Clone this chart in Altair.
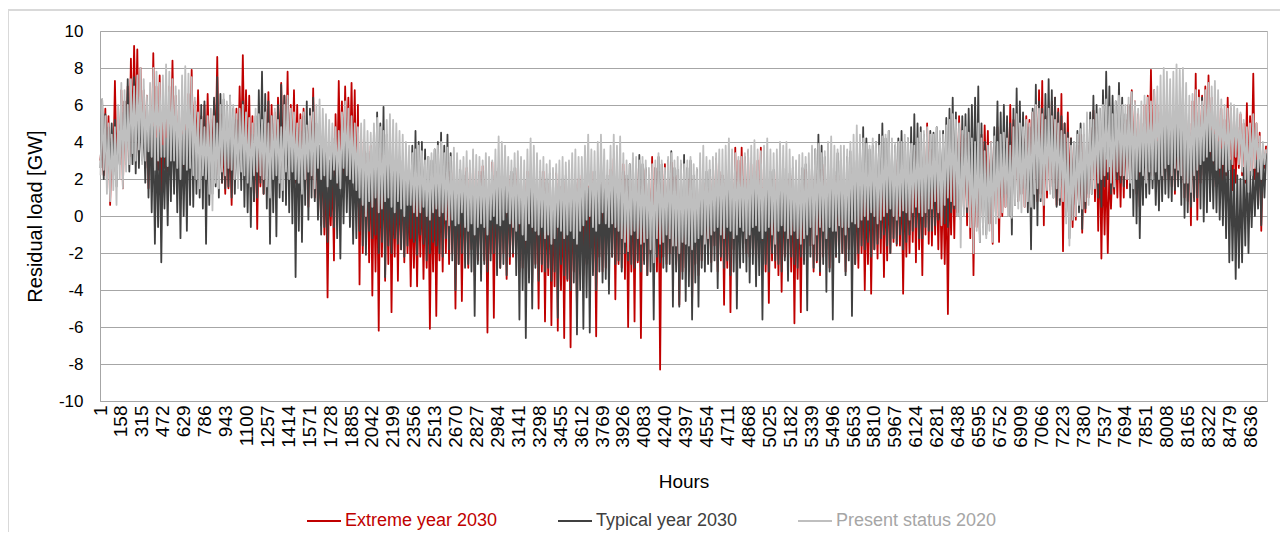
import altair as alt
import pandas as pd

FONT = "Liberation Sans, Arial, sans-serif"

series_names = ["Extreme year 2030", "Typical year 2030", "Present status 2020"]
line_colors = ["#c00000", "#404040", "#bfbfbf"]

# Daily daytime peak and night-time trough of each series, GW (365 days)
extreme_peak = [
    4.5, 5.8, 5.4, 4.2, 7.3, 5.0, 6.8, 6.2, 7.0, 8.5,
    9.2, 9.0, 8.0, 6.8, 6.5, 5.2, 8.8, 7.0, 7.6, 5.5,
    6.2, 7.0, 8.4, 6.5, 6.0, 5.0, 5.5, 6.6, 7.9, 6.2,
    6.8, 5.4, 6.0, 6.6, 5.2, 6.2, 8.6, 5.5, 4.0, 4.8,
    4.2, 5.0, 5.8, 7.0, 8.7, 6.8, 6.5, 5.4, 5.0, 4.6,
    5.0, 5.8, 6.7, 6.0, 5.6, 6.4, 7.2, 6.5, 7.8, 6.0,
    6.8, 6.0, 5.5, 5.8, 4.8, 5.5, 6.9, 4.6, 3.0, 3.4,
    3.0, 2.2, 2.5, 5.5, 7.3, 6.2, 7.0, 6.4, 7.2, 6.8,
    6.0, 4.2, 3.5, 3.0, 3.8, 2.5, 2.8, 3.4, 3.2, 2.6,
    2.9, 2.0, 2.5, 2.2, 2.2, 1.8, 1.5, 1.0, 1.2, 1.6,
    2.0, 1.4, 1.8, 1.2, 2.2, 1.6, 1.6, 2.3, 2.9, 2.4,
    2.5, 2.2, 2.0, 1.8, 2.6, 2.4, 2.9, 2.0, 2.4, 2.7,
    2.2, 1.6, 2.9, 2.4, 2.1, 1.8, 2.5, 2.2, 1.8, 2.3,
    2.6, 2.0, 2.0, 2.4, 2.3, 1.6, 1.9, 2.1, 2.4, 1.5,
    1.8, 1.2, 2.3, 1.6, 1.5, 1.9, 2.0, 1.4, 1.7, 2.0,
    2.2, 1.5, 1.6, 2.4, 2.0, 1.8, 2.6, 2.0, 1.8, 2.5,
    3.1, 2.5, 2.4, 2.8, 2.0, 1.6, 2.2, 2.6, 1.6, 1.9,
    2.5, 2.0, 3.2, 2.6, 2.4, 1.8, 2.8, 2.2, 2.9, 2.1,
    2.2, 1.6, 1.0, 2.0, 2.0, 1.2, 1.4, 2.2, 1.8, 1.4,
    1.5, 2.2, 3.1, 2.4, 2.2, 1.8, 2.5, 2.0, 3.7, 3.0,
    3.7, 3.2, 3.5, 2.8, 2.4, 3.0, 3.7, 2.5, 2.0, 1.6,
    2.0, 2.4, 1.5, 1.2, 1.8, 2.0, 2.2, 1.6, 1.4, 1.8,
    2.5, 2.0, 2.6, 2.3, 2.2, 2.5, 2.8, 2.4, 2.0, 2.2,
    2.0, 2.2, 1.8, 1.6, 2.4, 2.0, 1.6, 2.2, 2.0, 1.4,
    2.5, 1.8, 2.0, 2.4, 2.6, 2.2, 1.8, 2.6, 3.1, 2.4,
    2.4, 2.0, 2.2, 2.8, 3.5, 3.0, 2.6, 3.4, 5.0, 3.6,
    3.0, 2.6, 2.5, 2.2, 1.9, 2.4, 3.4, 4.0, 5.4, 4.4,
    4.2, 4.5, 3.6, 3.0, 4.0, 4.4, 4.9, 4.6, 4.0, 3.8,
    4.8, 4.0, 3.5, 5.0, 6.0, 5.2, 5.5, 5.0, 4.6, 5.4,
    5.2, 5.6, 6.0, 6.8, 7.3, 5.4, 5.8, 6.2, 6.4, 5.8,
    6.6, 5.0, 5.6, 4.2, 3.0, 3.8, 4.4, 4.0, 3.8, 4.8,
    5.7, 4.8, 4.2, 3.4, 3.0, 2.6, 3.0, 4.0, 4.5, 5.0,
    5.2, 6.0, 6.8, 6.2, 5.5, 5.0, 6.0, 6.5, 7.9, 6.8,
    6.0, 5.6, 5.0, 6.2, 5.5, 5.0, 4.8, 5.4, 5.8, 5.2,
    5.0, 6.2, 7.7, 6.8, 6.5, 7.0, 7.6, 6.4, 5.8, 6.0,
    5.8, 5.2, 6.4, 5.8, 5.2, 4.8, 5.5, 5.0, 6.1, 5.4,
    7.7, 5.0, 4.5, 3.6, 3.8,
]
extreme_trough = [
    3.0, 2.2, 1.8, 0.6, 2.4, 2.8, 3.5, 1.5, 2.8, 3.2,
    4.0, 4.5, 3.2, 3.4, 2.6, 1.5, 3.0, 2.8, 2.5, 1.0,
    2.6, 2.4, 3.4, 3.0, 2.8, 2.1, 2.5, 2.0, 3.2, 3.5,
    3.4, 3.0, 2.8, 2.6, 3.0, 3.1, 3.6, 2.2, 1.8, 1.2,
    1.5, 0.6, 2.0, 2.5, 3.4, 3.2, 2.6, 1.8, 0.8, -0.7,
    1.6, 1.2, 2.2, 1.7, 2.0, 2.4, 3.0, 2.6, 2.8, 2.0,
    2.4, 1.8, 2.0, 2.2, 1.4, 0.5, 2.0, 1.0, 0.5, -0.5,
    -1.0, -4.4, -0.5, -2.4, 1.5, 2.5, 2.2, 2.8, 2.6, 2.2,
    0.5, -3.7, -2.0, -1.5, -2.5, -4.3, -3.0, -6.2, -2.2, -3.5,
    -2.6, -5.2, -2.2, -3.5, -1.8, -2.5, -2.0, -3.8, -2.8, -3.8,
    -2.2, -3.4, -2.8, -6.1, -3.0, -5.4, -2.4, -3.0, -2.0, -2.6,
    -2.0, -5.0, -2.6, -4.6, -2.2, -2.8, -1.8, -3.2, -2.4, -2.5,
    -2.4, -6.3, -2.0, -5.5, -2.6, -2.8, -2.0, -3.4, -2.6, -2.2,
    -1.8, -3.0, -2.8, -2.4, -2.0, -3.6, -2.6, -5.0, -3.0, -5.7,
    -3.2, -5.9, -3.8, -6.2, -4.0, -6.6, -3.5, -7.1, -3.0, -5.1,
    -2.0, -3.2, -2.6, -2.6, -3.0, -6.5, -2.2, -3.0, -2.8, -2.4,
    -2.2, -4.5, -2.6, -2.8, -3.4, -6.0, -3.0, -5.7, -2.5, -6.6,
    -2.4, -3.2, -2.0, -2.5, -3.0, -8.3, -2.2, -2.6, -2.0, -3.0,
    -2.6, -4.8, -3.0, -2.8, -2.2, -4.7, -2.6, -3.2, -2.4, -2.0,
    -2.0, -2.5, -1.6, -3.0, -2.4, -4.8, -2.8, -5.2, -1.8, -2.6,
    -1.2, -1.5, -2.0, -2.2, -1.8, -2.8, -2.0, -2.5, -3.0, -4.7,
    -2.4, -2.8, -3.2, -4.1, -2.2, -2.6, -3.0, -5.8, -3.4, -5.2,
    -2.4, -2.0, -1.6, -3.0, -2.5, -3.2, -2.2, -1.8, -2.8, -2.5,
    -2.2, -1.5, -2.0, -3.0, -1.8, -2.2, -2.6, -2.8, -2.0, -4.0,
    -2.6, -4.2, -1.8, -2.3, -2.0, -3.3, -2.4, -2.0, -1.4, -1.6,
    -1.6, -4.2, -2.2, -2.0, -1.4, -2.5, -1.8, -3.2, -1.0, -1.5,
    -1.6, -1.0, -1.8, -2.3, -2.6, -5.3, -1.0, -1.2, 0.2, 0.8,
    0.4, -0.5, -1.2, -3.2, -0.6, -1.0, 0.6, 1.2, -0.4, -1.5,
    0.2, -1.4, 0.0, 0.5, 1.0, 1.2, 1.4, 0.8, 1.2, 0.5,
    1.4, 1.0, 1.8, 0.8, 1.2, -0.5, 1.0, 1.4, 1.8, 0.6,
    0.8, -1.9, 0.2, 0.4, -0.6, -0.2, 0.6, -0.9, 0.2, 1.0,
    1.4, 0.8, -0.8, -2.3, -1.0, -2.0, 0.4, 1.2, 1.0, 0.5,
    1.0, 1.5, 2.4, 2.0, 1.2, 0.5, 1.4, 1.8, 2.6, 2.2,
    2.2, 1.5, 1.8, 2.4, 2.0, 1.6, 1.2, 2.0, 1.8, 1.0,
    0.8, -0.5, 1.0, -0.2, 1.8, 2.2, 2.6, 2.0, 1.6, 2.6,
    2.0, 1.5, 2.2, 2.5, 1.4, 1.8, 2.6, 2.2, 1.8, 1.4,
    2.4, 2.0, 1.2, -0.8, 2.6,
]

typical_peak = [
    6.3, 5.5, 4.8, 5.0, 5.2, 4.6, 5.6, 6.2, 7.4, 6.8,
    7.5, 6.4, 5.8, 5.2, 6.0, 5.4, 4.8, 4.2, 4.5, 3.8,
    4.2, 4.8, 5.5, 5.2, 5.0, 4.4, 4.6, 5.6, 6.5, 5.8,
    5.5, 6.0, 6.2, 5.0, 5.0, 6.4, 7.5, 6.6, 6.3, 6.0,
    6.5, 5.8, 5.2, 5.6, 6.2, 5.0, 4.8, 4.4, 5.4, 6.8,
    7.8, 6.6, 6.2, 5.4, 5.0, 6.0, 7.1, 6.5, 6.3, 5.6,
    5.5, 4.8, 4.6, 5.4, 6.2, 5.8, 6.4, 5.0, 3.8, 4.2,
    3.6, 3.0, 4.2, 3.8, 3.5, 4.0, 4.5, 4.2, 3.8, 3.4,
    3.2, 3.6, 4.0, 3.4, 3.5, 4.6, 5.6, 5.0, 5.9, 4.4,
    3.3, 2.6, 2.8, 3.2, 3.0, 2.4, 2.6, 3.8, 4.6, 4.0,
    4.0, 3.6, 3.2, 3.0, 3.6, 4.0, 4.5, 3.8, 4.4, 3.4,
    3.0, 2.8, 2.5, 2.2, 2.4, 2.0, 2.0, 1.8, 2.2, 2.4,
    2.5, 2.0, 2.2, 2.4, 2.6, 1.8, 2.0, 2.2, 2.4, 2.6,
    2.6, 2.2, 2.0, 1.6, 2.2, 2.0, 2.5, 2.4, 1.8, 2.0,
    2.3, 2.0, 1.8, 1.6, 2.0, 2.2, 2.5, 2.0, 1.8, 1.5,
    2.0, 1.6, 1.5, 1.8, 2.4, 2.0, 1.8, 2.2, 2.2, 2.0,
    2.4, 2.6, 2.8, 2.4, 2.2, 2.8, 3.1, 2.6, 3.3, 2.8,
    2.6, 2.2, 2.0, 2.6, 3.2, 2.8, 2.4, 3.0, 3.5, 2.6,
    2.5, 2.8, 3.3, 2.6, 3.0, 2.2, 2.5, 2.0, 2.0, 2.4,
    2.5, 2.2, 2.8, 2.4, 2.2, 2.0, 1.8, 2.2, 2.4, 1.6,
    1.5, 2.0, 2.5, 2.2, 1.8, 1.6, 2.2, 1.8, 2.0, 2.4,
    2.5, 2.0, 2.2, 2.6, 2.0, 2.3, 2.6, 2.4, 2.2, 2.6,
    2.8, 2.4, 3.0, 3.6, 4.4, 3.8, 3.2, 2.8, 2.6, 2.4,
    3.4, 3.0, 3.0, 3.2, 3.5, 2.6, 3.0, 3.8, 4.8, 4.2,
    3.6, 3.8, 4.0, 4.4, 5.0, 4.2, 4.6, 3.6, 3.8, 4.2,
    4.6, 4.0, 4.2, 4.8, 5.5, 5.0, 4.8, 4.4, 4.0, 4.6,
    4.5, 4.8, 4.2, 4.6, 5.3, 5.8, 6.4, 5.6, 5.0, 5.4,
    5.5, 5.8, 6.0, 6.4, 7.0, 5.0, 4.0, 3.8, 3.5, 4.8,
    6.2, 5.6, 6.0, 5.4, 5.0, 5.8, 6.9, 6.2, 5.6, 5.0,
    4.8, 5.8, 7.1, 6.2, 5.8, 6.6, 7.4, 6.8, 6.4, 5.6,
    5.4, 5.0, 4.5, 4.2, 4.0, 4.6, 5.0, 4.4, 4.2, 5.6,
    6.5, 6.0, 5.8, 6.8, 7.8, 7.0, 6.5, 6.2, 7.2, 6.4,
    5.5, 6.0, 6.7, 5.4, 4.5, 4.0, 5.0, 4.8, 4.5, 4.2,
    4.0, 4.6, 5.0, 5.2, 4.6, 5.0, 5.5, 6.0, 7.2, 5.6,
    4.5, 4.8, 5.2, 5.8, 6.4, 5.4, 5.0, 4.6, 4.4, 4.0,
    3.6, 3.8, 4.2, 3.0, 2.5, 2.2, 2.0, 2.6, 3.0, 2.4,
    2.5, 3.0, 3.7, 3.2, 3.4,
]
typical_trough = [
    2.6, 2.0, 2.4, 2.5, 2.2, 1.6, 2.8, 3.0, 3.4, 2.4,
    2.8, 2.3, 2.6, 3.0, 1.8, 1.0, 0.2, -1.5, -0.6, -2.5,
    0.4, -0.5, 0.8, 1.2, 0.2, -1.2, 0.0, -0.8, 0.6, 0.5,
    1.2, 1.0, 0.4, -1.5, 0.6, 1.2, 1.6, 1.0, 1.8, 1.5,
    1.6, 1.0, 1.2, 1.8, 1.4, 0.5, 0.2, -0.6, 0.8, 1.0,
    1.8, 1.2, 0.4, -1.5, 0.2, -1.1, 1.0, 0.8, 0.6, 0.2,
    -0.4, -3.3, -0.8, -1.4, 0.6, -0.2, 1.0, 0.8, -0.2, -1.0,
    -0.6, -1.4, 0.0, -0.6, -1.2, -2.3, -0.4, 0.2, -0.6, -1.5,
    -1.2, -0.8, -1.6, -2.1, -0.8, -1.2, -1.0, -2.0, -1.4, -3.3,
    -1.6, -2.0, -1.2, -1.5, -1.8, -2.2, -1.6, -1.2, -1.4, -2.1,
    -1.0, -1.5, -2.4, -2.0, -1.4, -1.6, -2.0, -2.2, -1.2, -1.8,
    -2.4, -4.0, -2.6, -2.0, -2.8, -2.6, -3.0, -5.4, -2.6, -3.5,
    -2.6, -3.0, -2.4, -2.0, -3.2, -2.8, -2.6, -3.2, -2.2, -2.0,
    -3.2, -5.6, -4.0, -6.6, -3.6, -5.0, -2.8, -3.5, -2.6, -3.0,
    -2.8, -3.5, -3.0, -5.5, -2.6, -3.2, -3.4, -4.0, -3.6, -6.4,
    -4.0, -6.1, -4.4, -6.3, -3.2, -4.0, -3.0, -3.6, -3.4, -4.2,
    -2.2, -2.6, -2.4, -3.0, -2.0, -2.4, -2.6, -2.8, -2.4, -3.0,
    -2.6, -3.2, -3.0, -5.6, -2.2, -2.5, -2.8, -3.0, -2.6, -4.9,
    -3.0, -4.9, -3.4, -4.6, -3.8, -5.6, -3.6, -4.9, -2.8, -3.0,
    -2.6, -3.0, -2.4, -3.9, -2.2, -2.8, -2.4, -3.2, -3.0, -5.0,
    -2.8, -2.5, -3.0, -3.6, -2.6, -3.8, -3.2, -5.6, -2.6, -3.0,
    -2.0, -2.4, -2.6, -3.0, -2.4, -3.5, -2.2, -2.6, -2.8, -2.2,
    -2.6, -5.1, -2.2, -2.8, -2.4, -3.0, -2.6, -4.1, -3.0, -5.6,
    -2.2, -2.5, -2.0, -3.2, -2.4, -5.4, -2.6, -2.0, -1.6, -1.8,
    -1.4, -2.2, -1.8, -1.5, -1.2, -1.0, -1.6, -2.0, -1.2, -1.5,
    -1.0, -1.8, -1.4, -1.0, -0.8, -0.6, -1.2, -1.2, -0.6, -0.8,
    -0.8, -0.5, -0.2, 0.0, -0.4, -0.6, 0.2, 0.4, 0.0, -0.2,
    0.4, 0.2, 0.6, 0.8, 0.2, -1.4, -0.6, -1.0, -0.4, 0.5,
    0.8, 0.5, 1.0, 1.2, 0.0, -1.0, 0.6, 0.8, 1.2, 1.5,
    0.2, -1.8, 0.4, -0.5, 0.8, 1.0, 1.4, 1.6, 1.0, 0.5,
    0.6, 1.0, 0.0, -1.2, -0.2, 0.6, 0.2, -0.7, 0.4, 1.2,
    1.2, 1.5, 1.0, 0.5, 1.6, 2.0, 1.2, 1.5, 2.0, 1.8,
    1.6, 2.2, 1.0, 0.0, -0.4, -1.2, 0.6, 1.0, 1.2, 1.5,
    0.6, 0.3, 0.8, 1.2, 1.0, 0.8, 1.4, 1.6, 0.6, -0.1,
    0.2, 0.5, 0.8, 1.0, 0.4, -0.3, 0.2, 0.8, 0.4, 0.2,
    -0.2, -0.5, -1.2, -2.5, -2.4, -3.4, -2.8, -2.5, -1.6, -2.0,
    -0.6, 0.0, 0.4, -0.5, 1.0,
]

present_peak = [
    6.3, 5.4, 5.0, 4.4, 4.8, 6.0, 7.2, 6.8, 6.0, 7.4,
    7.0, 7.6, 8.0, 7.4, 6.5, 7.2, 8.0, 7.8, 7.2, 7.6,
    8.2, 7.8, 7.4, 7.0, 6.8, 7.6, 8.1, 7.7, 7.5, 6.4,
    5.6, 5.2, 4.8, 5.4, 5.8, 5.4, 5.0, 6.0, 6.6, 6.2,
    6.5, 6.0, 5.5, 5.8, 6.0, 5.6, 5.3, 5.0, 5.8, 5.5,
    5.2, 5.6, 5.0, 5.4, 5.8, 5.2, 4.8, 6.0, 6.5, 5.8,
    5.6, 5.0, 5.2, 5.6, 4.9, 5.4, 5.6, 6.0, 6.3, 5.8,
    5.5, 5.2, 5.0, 4.8, 4.6, 5.6, 6.2, 5.8, 5.4, 5.0,
    4.8, 5.0, 5.2, 4.6, 4.5, 5.0, 5.3, 4.8, 4.6, 5.2,
    5.5, 5.2, 5.0, 4.6, 4.4, 4.0, 3.8, 3.4, 3.6, 3.8,
    3.5, 3.0, 3.2, 3.4, 3.6, 3.8, 4.0, 3.4, 3.7, 3.2,
    3.7, 3.4, 3.0, 3.2, 3.5, 3.0, 3.6, 3.3, 3.2, 3.0,
    3.4, 3.2, 3.0, 3.6, 4.3, 4.0, 3.8, 3.2, 3.0, 3.4,
    3.5, 3.2, 3.0, 3.6, 4.2, 3.8, 3.4, 3.0, 3.2, 2.8,
    3.0, 2.6, 2.8, 3.0, 3.2, 2.9, 3.0, 3.4, 3.6, 3.2,
    3.2, 3.8, 4.4, 3.6, 3.5, 4.0, 4.4, 3.6, 3.0, 3.8,
    4.4, 3.8, 4.3, 3.4, 3.0, 2.8, 3.4, 3.2, 3.0, 3.2,
    3.0, 2.6, 2.8, 3.0, 3.4, 3.0, 2.6, 3.2, 3.4, 3.0,
    3.2, 3.0, 2.8, 3.0, 3.2, 2.8, 2.6, 3.4, 3.8, 3.2,
    3.0, 3.2, 3.4, 3.6, 3.6, 3.8, 4.2, 3.6, 3.4, 3.2,
    3.2, 3.4, 3.6, 3.8, 4.1, 3.6, 3.5, 3.8, 4.2, 3.6,
    3.4, 3.6, 4.0, 3.8, 4.0, 3.6, 3.2, 3.0, 3.3, 3.4,
    3.2, 3.4, 3.8, 3.6, 3.9, 3.4, 3.5, 4.0, 4.3, 3.8,
    3.6, 3.8, 3.8, 3.6, 4.0, 4.4, 4.9, 4.4, 4.2, 3.9,
    3.8, 4.2, 4.0, 3.8, 4.3, 4.4, 4.6, 4.2, 3.9, 4.0,
    4.0, 4.4, 4.2, 3.9, 3.8, 4.2, 4.5, 4.6, 4.8, 4.4,
    4.4, 4.8, 4.6, 4.4, 4.9, 5.2, 5.5, 5.2, 5.0, 4.6,
    4.8, 4.5, 4.2, 4.0, 5.0, 4.2, 3.5, 3.8, 4.0, 4.3,
    4.0, 4.4, 4.5, 4.2, 3.8, 4.8, 5.5, 5.0, 4.8, 5.2,
    5.0, 5.6, 6.0, 5.8, 5.5, 5.2, 5.8, 5.4, 5.2, 5.0,
    4.6, 4.4, 4.2, 3.8, 4.0, 4.4, 4.7, 5.0, 5.6, 5.2,
    5.2, 5.5, 5.8, 6.0, 6.3, 5.9, 5.5, 6.2, 6.5, 6.0,
    6.0, 6.4, 6.7, 6.2, 5.8, 6.2, 6.5, 6.4, 6.2, 6.8,
    7.0, 7.6, 8.0, 7.8, 7.4, 7.8, 8.2, 7.9, 8.0, 7.2,
    6.5, 6.6, 6.8, 6.4, 6.2, 6.8, 7.2, 7.0, 7.3, 6.8,
    6.3, 6.0, 5.8, 6.1, 6.0, 5.8, 5.6, 5.2, 4.8, 5.0,
    5.5, 5.0, 4.3, 4.0, 3.6,
]
present_trough = [
    2.2, 2.5, 1.2, 0.8, 1.4, 0.6, 2.0, 1.5, 2.4, 2.8,
    3.4, 3.0, 3.6, 2.8, 3.0, 3.5, 3.2, 2.5, 3.0, 3.2,
    3.2, 2.7, 3.0, 3.0, 2.6, 2.0, 2.8, 2.5, 2.6, 2.2,
    2.0, 1.5, 2.2, 2.0, 1.2, 0.3, 1.8, 1.5, 2.4, 2.2,
    2.6, 2.5, 2.0, 1.5, 2.4, 2.2, 1.8, 1.6, 2.2, 2.4,
    2.2, 2.0, 1.6, 1.0, 2.0, 2.2, 1.8, 1.4, 2.4, 2.0,
    2.4, 2.0, 1.8, 1.2, 2.0, 2.4, 2.2, 1.5, 2.6, 2.0,
    2.2, 1.6, 2.0, 2.5, 1.8, 1.5, 2.6, 2.2, 2.0, 1.8,
    1.4, 1.0, 0.6, 0.0, 0.8, 0.5, 1.0, 0.2, 0.4, 0.8,
    1.0, 0.5, 0.2, 0.8, 0.4, 0.0, 0.6, 0.6, 0.2, 0.0,
    0.2, 0.5, 0.0, -0.2, 0.2, 0.4, 0.0, 0.2, -0.2, -0.5,
    -0.2, -0.5, -0.4, 0.2, -0.6, -0.8, -0.4, -1.0, -0.6, -0.4,
    -0.6, -1.0, -0.2, 0.0, -0.4, -0.5, -0.2, 0.2, -0.4, -0.6,
    -0.8, -0.4, -1.0, -1.3, -0.4, -0.6, -0.8, -1.0, -0.6, -1.2,
    -1.0, -1.5, -1.2, -0.6, -0.8, -1.2, -1.0, -0.8, -1.2, -1.5,
    -0.8, -0.5, -0.2, 0.0, -0.6, -0.8, -0.4, 0.2, -0.4, -0.6,
    -0.4, -0.6, -0.8, -1.2, -1.4, -1.9, -1.0, -0.8, -1.2, -1.5,
    -1.4, -1.2, -1.8, -2.5, -1.2, -1.5, -1.4, -1.0, -1.2, -1.6,
    -1.6, -2.0, -1.4, -1.5, -1.6, -1.8, -1.4, -1.2, -1.0, -1.5,
    -1.2, -1.0, -0.8, -0.6, -1.0, -1.2, -0.6, -0.8, -1.2, -1.0,
    -0.6, -0.8, -1.2, -1.0, -0.6, -0.5, -0.8, -1.2, -0.8, -0.6,
    -1.0, -1.5, -0.8, -0.5, -0.8, -1.2, -1.0, -0.8, -1.2, -1.5,
    -1.2, -1.0, -0.6, -1.5, -1.0, -0.6, -0.8, -1.2, -0.6, -0.8,
    -0.8, -0.5, -0.6, -1.0, -0.6, -0.3, -0.4, -0.6, -0.2, 0.0,
    -0.2, 0.2, 0.0, -0.4, -0.2, 0.0, 0.2, 0.4, 0.0, -0.2,
    0.0, 0.3, 0.2, -0.2, 0.2, 0.5, 0.2, 0.0, 0.2, 0.4,
    0.4, 0.8, 0.2, -0.5, 0.6, 1.0, 0.8, 0.6, 0.0, -1.7,
    0.0, 0.5, -0.6, -2.0, -0.8, -1.4, -1.0, -1.2, -0.8, -1.4,
    -0.4, -0.1, 0.2, 0.5, 0.0, -0.1, 0.6, 0.4, 0.2, 0.5,
    0.8, 0.5, 1.2, 1.5, 1.0, 0.6, 1.4, 1.2, 1.0, 1.5,
    1.0, 0.8, -0.4, -1.6, -0.2, 0.0, 0.6, 0.4, 0.8, 0.6,
    1.2, 1.5, 1.8, 2.0, 2.2, 2.4, 1.8, 1.6, 2.4, 2.2,
    2.2, 2.0, 1.8, 1.5, 2.0, 2.4, 2.2, 1.8, 2.4, 2.0,
    2.4, 2.0, 2.2, 2.6, 2.8, 2.2, 2.6, 2.5, 2.2, 1.8,
    1.8, 1.3, 2.2, 2.5, 2.8, 3.0, 3.2, 3.5, 3.0, 2.5,
    2.6, 2.8, 2.4, 2.5, 2.8, 3.2, 2.8, 2.4, 2.0, 1.3,
    2.2, 2.6, 2.4, 2.0, 2.8,
]

x_ticks = [1, 158, 315, 472, 629, 786, 943, 1100, 1257, 1414, 1571, 1728, 1885,
           2042, 2199, 2356, 2513, 2670, 2827, 2984, 3141, 3298, 3455, 3612,
           3769, 3926, 4083, 4240, 4397, 4554, 4711, 4868, 5025, 5182, 5339,
           5496, 5653, 5810, 5967, 6124, 6281, 6438, 6595, 6752, 6909, 7066,
           7223, 7380, 7537, 7694, 7851, 8008, 8165, 8322, 8479, 8636]
y_ticks = [-10, -8, -6, -4, -2, 0, 2, 4, 6, 8, 10]

rows = []
series_data = [
    (extreme_peak, extreme_trough),
    (typical_peak, typical_trough),
    (present_peak, present_trough),
]
for name, (peaks, troughs) in zip(series_names, series_data):
    for d, (pk, tr) in enumerate(zip(peaks, troughs)):
        rows.append({"hour": 24 * d + 5, "load": tr, "series": name})
        rows.append({"hour": 24 * d + 17, "load": pk, "series": name})
df = pd.DataFrame(rows)

label_color_expr = (
    "datum.label == 'Extreme year 2030' ? '#c00000' : "
    "(datum.label == 'Typical year 2030' ? '#404040' : '#a6a6a6')"
)

color = alt.Color(
    "series:N",
    scale=alt.Scale(domain=series_names, range=line_colors),
    legend=alt.Legend(
        title=None,
        orient="none",
        legendX=206,
        legendY=472,
        direction="horizontal",
        columns=3,
        symbolType="stroke",
        symbolSize=1156,
        symbolStrokeWidth=2,
        labelFont=FONT,
        labelFontSize=18,
        labelColor={"expr": label_color_expr},
        labelLimit=400,
        labelOffset=3,
        columnPadding=56,
        padding=0,
    ),
)

x = alt.X(
    "hour:Q",
    scale=alt.Scale(domain=[1, 8760], nice=False, zero=False),
    axis=alt.Axis(
        values=x_ticks,
        title="Hours",
        titleFont=FONT,
        titleFontSize=19,
        titleFontWeight="normal",
        titleColor="#000000",
        titleY=80,
        titleBaseline="middle",
        labelAngle=-90,
        labelFont=FONT,
        labelFontSize=19,
        labelColor="#000000",
        labelPadding=4,
        labelExpr="'' + datum.value",
        labelOverlap=False,
        labelFlush=False,
        labelBound=False,
        ticks=False,
        tickSize=0,
        grid=False,
        domainColor="#a6a6a6",
        domainWidth=1,
    ),
)

y = alt.Y(
    "load:Q",
    scale=alt.Scale(domain=[-10, 10], nice=False, zero=False),
    axis=alt.Axis(
        values=y_ticks,
        title="Residual load [GW]",
        titleFont=FONT,
        titleFontSize=20,
        titleFontWeight="normal",
        titleColor="#000000",
        titleAngle=-90,
        titleX=-65,
        titleY=185,
        titleAlign="center",
        titleBaseline="middle",
        labelFont=FONT,
        labelFontSize=17,
        labelColor="#000000",
        labelPadding=17,
        labelExpr="'' + datum.value",
        ticks=False,
        tickSize=0,
        grid=True,
        gridColor="#a6a6a6",
        gridWidth=1,
        domainColor="#a6a6a6",
        domainWidth=1,
    ),
)

layers = [
    alt.Chart(df)
    .transform_filter(alt.datum.series == s)
    .mark_line(strokeWidth=1.8, strokeJoin="round")
    .encode(x=x, y=y, color=color)
    for s in series_names
]

# light frame around the whole chart area (as in the original spreadsheet chart)
frame = (
    alt.Chart(pd.DataFrame({"frame": [0]}))
    .mark_rect(fill=None, stroke="#d9d9d9", strokeWidth=2, clip=False)
    .encode(x=alt.value(-92), x2=alt.value(1200), y=alt.value(-21), y2=alt.value(560))
)

chart = (
    alt.layer(frame, *layers)
    .properties(
        width=1167,
        height=370,
        padding={"left": 92, "top": 23, "right": 13, "bottom": 131},
        autosize=alt.AutoSizeParams(type="none"),
    )
    .configure_view(stroke="#bfbfbf", strokeWidth=1)
)

chart.save("out.html", embed_options={"renderer": "svg", "actions": False})
